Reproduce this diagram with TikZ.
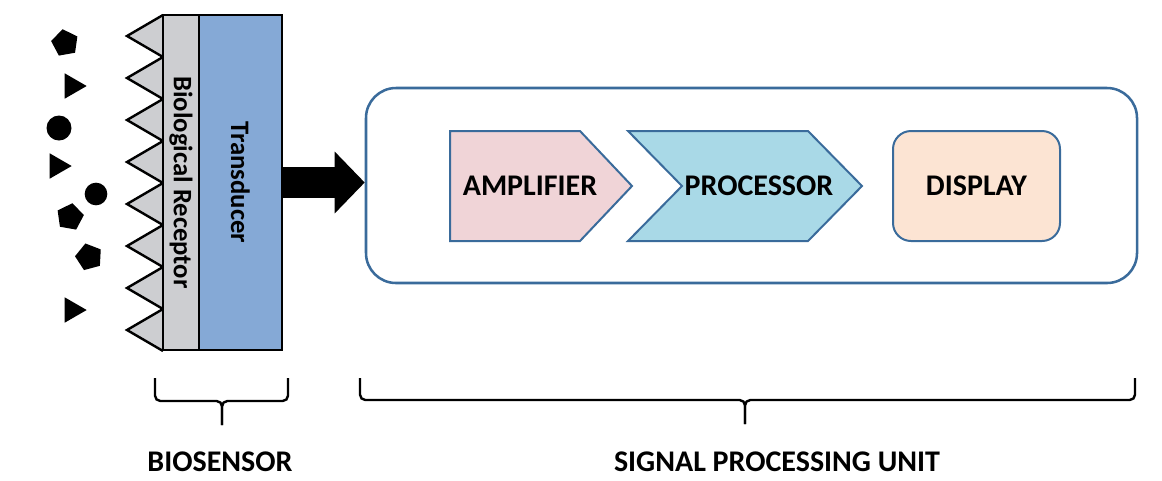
\documentclass[tikz,border=0pt]{standalone}
\usepackage{fontspec}
\setmainfont{Carlito}
\usetikzlibrary{arrows.meta,shapes.geometric,positioning}

\definecolor{recgray}{HTML}{CDCED1}
\definecolor{transblue}{HTML}{85A9D6}
\definecolor{frameblue}{HTML}{3A6B9B}
\definecolor{ampred}{HTML}{F0D4D7}
\definecolor{procblue}{HTML}{A9D9E7}
\definecolor{disporange}{HTML}{FCE4D3}

\begin{document}
\begin{tikzpicture}
        [
            x=0.75pt, y=-0.75pt,
            molecule/.style = {fill=black, inner sep=0pt, outer sep=0pt},
            penta/.style = {molecule, regular polygon, regular polygon sides=5, minimum size=21pt},
            tri/.style = {molecule, regular polygon, regular polygon sides=3, minimum size=22pt, rotate=-90},
            ball/.style = {molecule, circle, minimum size=#1},
            layer/.style = {draw, line width=1.8pt, inner sep=0pt, minimum height=251.25pt},
            stage/.style = {draw=frameblue, line width=1.5pt},
            bigtext/.style = {font=\bfseries\fontsize{22.5}{27}\selectfont, inner sep=0pt},
            sidetext/.style = {font=\bfseries\fontsize{20}{24}\selectfont, rotate=-90, inner sep=0pt},
            brace/.style = {line width=1.8pt, rounded corners=4pt},
        ]
        \useasboundingbox (0,0) rectangle (1162,480);
        % analytes
        \node [penta, rotate=10] (m1) at (65,43) {};
        \node [tri] (m2) at (72,86) {};
        \node [ball=18.75pt] (m3) at (59,128) {};
        \node [tri] (m4) at (57,166) {};
        \node [ball=17pt] (m5) at (96,194) {};
        \node [penta, rotate=-10] (m6) at (70,217) {};
        \node [penta, rotate=15] (m7) at (89,257) {};
        \node [tri] (m8) at (72,310) {};
        % receptor teeth
        \filldraw [fill=recgray, line width=1.8pt, line join=miter]
            (163,15) \foreach \i in {0,...,7} { -- (127,36+42*\i) -- (163,57+42*\i) };
        \node [layer, fill=recgray, minimum width=27pt] (rec) at (181,182.5) {};
        \node [layer, fill=transblue, minimum width=62.25pt] (trans) at (240.5,182.5) {};
        \node [sidetext] (reclabel) at (rec.center) {Biological Receptor};
        \node [sidetext] (translabel) at (trans.center) {Transducer};
        % signal processing unit
        \node [draw=frameblue, line width=1.9pt, rounded corners=22.5pt,
               minimum width=578.25pt, minimum height=146.25pt] (spu) at (751.5,185.5) {};
        \draw [line width=23.25pt, -{Triangle[length=22.5pt, width=45pt]}]
            (trans.east) -- (trans.east -| spu.west);
        \filldraw [stage, fill=ampred]
            (450,131) -- (580,131) -- (632,186) -- (580,241) -- (450,241) -- cycle;
        \filldraw [stage, fill=procblue]
            (628,131) -- (808,131) -- (862,186) -- (808,241) -- (628,241) -- (682,186) -- cycle;
        \node [stage, fill=disporange, rounded corners=13.5pt,
               minimum width=125.25pt, minimum height=82.5pt] (disp) at (976.5,186) {};
        \node [bigtext] (amp) at (530,186) {AMPLIFIER};
        \node [bigtext] (proc) at (759,186) {PROCESSOR};
        \node [bigtext] (displabel) at (disp.center) {DISPLAY};
        % braces
        \draw [brace] (155,378) |- (222,401) -- (222,425);
        \draw [brace] (288,378) |- (222,401) -- (222,425);
        \draw [brace] (360,378) |- (745,400) -- (745,424);
        \draw [brace] (1135,378) |- (745,400) -- (745,424);
        \node [bigtext, anchor=base] (bio) at (220,471) {BIOSENSOR};
        \node [bigtext, anchor=base] (spulabel) at (777,471) {SIGNAL PROCESSING UNIT};
    \end{tikzpicture}
\end{document}
